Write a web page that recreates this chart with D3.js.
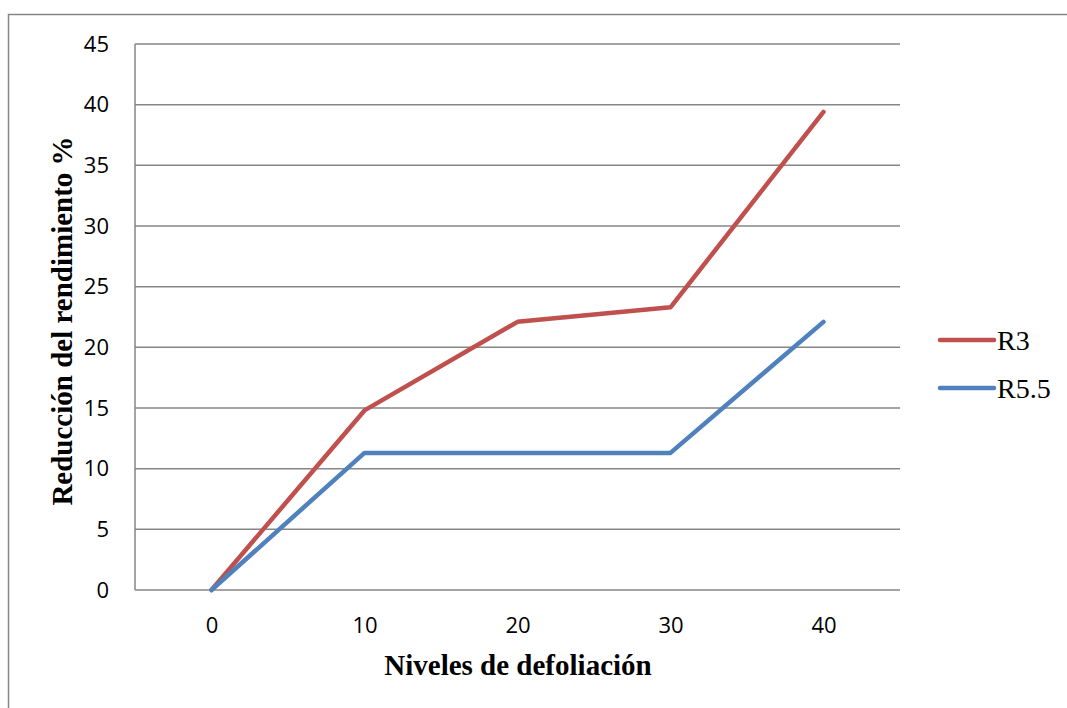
<!DOCTYPE html>
<html>
<head>
<meta charset="utf-8">
<script src="https://cdn.jsdelivr.net/npm/d3@7"></script>
<style>
 body { margin:0; background:#fff; }
 svg { display:block; }
</style>
</head>
<body>
<div id="container"></div>
<script>
const categories = ["0", "10", "20", "30", "40"];
const r3 = [0, 14.8, 22.1, 23.3, 39.4];
const r55 = [0, 11.3, 11.3, 11.3, 22.1];
const yTicks = [0, 5, 10, 15, 20, 25, 30, 35, 40, 45];
const seriesNames = ["R3", "R5.5"];
const seriesColors = ["#C0504D", "#4F81BD"];

const width = 1067;
const height = 708;
const plotLeft = 135, plotRight = 900, plotTop = 44, plotBottom = 590;

const svg = d3.select("#container")
  .append("svg")
  .attr("width", width)
  .attr("height", height);

// outer chart border (runs off the right and bottom edges)
svg.append("rect")
  .attr("x", 8.5).attr("y", 14.5)
  .attr("width", 1100).attr("height", 720)
  .attr("fill", "none")
  .attr("stroke", "#868686")
  .attr("stroke-width", 1.5);

const x = d3.scalePoint().domain(categories).range([plotLeft, plotRight]).padding(0.5);
const y = d3.scaleLinear().domain([0, 45]).range([plotBottom, plotTop]);

// gridlines
svg.append("g")
  .selectAll("line")
  .data(yTicks)
  .enter()
  .append("line")
  .attr("x1", plotLeft).attr("x2", plotRight)
  .attr("y1", d => y(d)).attr("y2", d => y(d))
  .attr("stroke", "#868686")
  .attr("stroke-width", 1.5);

// y axis line
svg.append("line")
  .attr("x1", plotLeft).attr("x2", plotLeft)
  .attr("y1", plotTop).attr("y2", plotBottom)
  .attr("stroke", "#868686")
  .attr("stroke-width", 1.5);

const yAxis = svg.append("g")
  .attr("transform", `translate(${plotLeft},0)`)
  .call(d3.axisLeft(y).tickValues(yTicks).tickSize(0).tickPadding(26));
yAxis.select(".domain").remove();
yAxis.selectAll("text")
  .style("font-family", "'Open Sans', sans-serif")
  .style("font-size", "22px")
  .attr("fill", "#000");

const xAxis = svg.append("g")
  .attr("transform", `translate(0,${plotBottom})`)
  .call(d3.axisBottom(x).tickSize(0).tickPadding(27));
xAxis.select(".domain").remove();
xAxis.selectAll("text")
  .style("font-family", "'Open Sans', sans-serif")
  .style("font-size", "22px")
  .attr("fill", "#000");

// lines
const line = d3.line()
  .x((d, i) => x(categories[i]))
  .y(d => y(d));

[r3, r55].forEach((s, i) => {
  svg.append("path")
    .datum(s)
    .attr("d", line)
    .attr("fill", "none")
    .attr("stroke", seriesColors[i])
    .attr("stroke-width", 4.5)
    .attr("stroke-linecap", "round")
    .attr("stroke-linejoin", "round");
});

// axis titles
svg.append("text")
  .attr("x", 518)
  .attr("y", 675)
  .attr("text-anchor", "middle")
  .style("font-family", "'Liberation Serif', 'Times New Roman', serif")
  .style("font-weight", "bold")
  .style("font-size", "29px")
  .text("Niveles de defoliación");

svg.append("text")
  .attr("transform", "translate(72,321) rotate(-90)")
  .attr("text-anchor", "middle")
  .style("font-family", "'Liberation Serif', 'Times New Roman', serif")
  .style("font-weight", "bold")
  .style("font-size", "29px")
  .text("Reducción del rendimiento %");

// legend
const legend = svg.append("g")
  .selectAll("g")
  .data(seriesNames)
  .enter()
  .append("g")
  .attr("transform", (d, i) => `translate(940,${340 + i * 48})`);

legend.append("line")
  .attr("x1", 0).attr("x2", 54)
  .attr("stroke", (d, i) => seriesColors[i])
  .attr("stroke-width", 4.5)
  .attr("stroke-linecap", "round");

legend.append("text")
  .attr("x", 57)
  .attr("y", 10)
  .style("font-family", "'Liberation Serif', 'Times New Roman', serif")
  .style("font-size", "28px")
  .text(d => d);
</script>
</body>
</html>
